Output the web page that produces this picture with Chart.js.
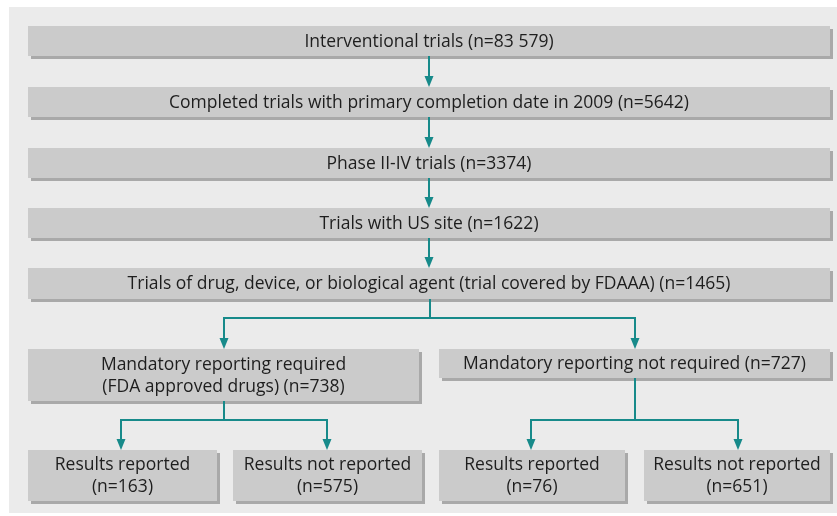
<!DOCTYPE html>
<html>
<head>
<meta charset="utf-8">
<script src="https://cdn.jsdelivr.net/npm/chart.js@4"></script>
<style>
  html, body { margin: 0; padding: 0; background: #ffffff; }
  #wrap { width: 837px; height: 516px; position: relative; }
</style>
</head>
<body>
<div id="wrap"><canvas id="flowChart"></canvas></div>
<script>
// flow stages, top to bottom
const stageText = [
    ['Interventional trials'],
    ['Completed trials with primary completion date in 2009'],
    ['Phase II-IV trials'],
    ['Trials with US site'],
    ['Trials of drug, device, or biological agent (trial covered by FDAAA)'],
    ['Mandatory reporting required', '(FDA approved drugs)'],
    ['Mandatory reporting not required'],
    ['Results reported'],
    ['Results not reported'],
    ['Results reported'],
    ['Results not reported']
];
const stageCounts = ['83 579', '5642', '3374', '1622', '1465', '738', '727', '163', '575', '76', '651'];
// counts go on their own line for the bottom row
const countOnNewLine = [false, false, false, false, false, false, false, true, true, true, true];

// box layout in canvas units: [x0, x1, y0, y1]
const boxLayout = [
    [28, 830, 26, 56],
    [28, 830, 87, 117],
    [28, 830, 148, 178],
    [28, 830, 208, 238],
    [28, 830, 268, 299],
    [28, 419, 349, 401],
    [439, 830, 349, 378],
    [28, 217, 450, 501],
    [233, 422, 450, 501],
    [439, 625, 450, 501],
    [644, 830, 450, 501]
];

// connector paths and arrow tips
const connectors = [
    [[429, 56], [429, 80]],
    [[429, 117], [429, 141]],
    [[429, 178], [429, 201]],
    [[429, 238], [429, 261]],
    [[430, 299], [430, 318]],
    [[224, 342], [224, 318], [635, 318], [635, 342]],
    [[224, 401], [224, 420]],
    [[121, 443], [121, 420], [327, 420], [327, 443]],
    [[635, 378], [635, 420]],
    [[531, 443], [531, 420], [738, 420], [738, 443]]
];
const arrowTips = [[429, 87], [429, 148], [429, 208], [429, 268], [224, 349], [635, 349], [121, 450], [327, 450], [531, 450], [738, 450]];

const teal = '#178a8a';

const flowPlugin = {
    id: 'flowBoxes',
    beforeDatasetsDraw(chart) {
        const ctx = chart.ctx;
        const xs = chart.scales.x, ys = chart.scales.y;
        ctx.save();
        // panel
        ctx.fillStyle = '#ebebeb';
        ctx.fillRect(xs.getPixelForValue(9), ys.getPixelForValue(7), xs.getPixelForValue(837) - xs.getPixelForValue(9), ys.getPixelForValue(513) - ys.getPixelForValue(7));
        boxLayout.forEach(function(b, i) {
            const x0 = xs.getPixelForValue(b[0]), x1 = xs.getPixelForValue(b[1]);
            const y0 = ys.getPixelForValue(b[2]), y1 = ys.getPixelForValue(b[3]);
            ctx.fillStyle = '#a9a9a9';
            ctx.fillRect(x0 + 3, y0 + 3, x1 - x0, y1 - y0);
            ctx.fillStyle = '#cbcbcb';
            ctx.fillRect(x0, y0, x1 - x0, y1 - y0);

            let lines = stageText[i].slice();
            const n = '(n=' + stageCounts[i] + ')';
            if (countOnNewLine[i]) lines.push(n);
            else lines[lines.length - 1] += ' ' + n;

            ctx.fillStyle = '#1e1e1e';
            ctx.font = '17.5px "Open Sans"';
            ctx.textAlign = 'center';
            ctx.textBaseline = 'middle';
            const cx = (x0 + x1) / 2, cy = (y0 + y1) / 2 + 1;
            const lh = 22;
            lines.forEach(function(t, k) {
                ctx.fillText(t, cx, cy + (k - (lines.length - 1) / 2) * lh);
            });
        });
        ctx.restore();
    },
    afterDatasetsDraw(chart) {
        const ctx = chart.ctx;
        const xs = chart.scales.x, ys = chart.scales.y;
        ctx.save();
        ctx.fillStyle = teal;
        arrowTips.forEach(function(a) {
            const x = xs.getPixelForValue(a[0]), y = ys.getPixelForValue(a[1]);
            ctx.beginPath();
            ctx.moveTo(x, y);
            ctx.lineTo(x - 4.5, y - 11);
            ctx.lineTo(x + 4.5, y - 11);
            ctx.closePath();
            ctx.fill();
        });
        ctx.restore();
    }
};

new Chart(document.getElementById('flowChart').getContext('2d'), {
    type: 'scatter',
    data: {
        datasets: connectors.map(function(path) {
            return {
                data: path.map(function(p) { return { x: p[0], y: p[1] }; }),
                showLine: true,
                borderColor: teal,
                borderWidth: 2,
                pointRadius: 0,
                fill: false
            };
        })
    },
    options: {
        responsive: true,
        maintainAspectRatio: false,
        animation: false,
        layout: { padding: 0 },
        plugins: { legend: { display: false }, tooltip: { enabled: false } },
        scales: {
            x: { type: 'linear', min: 0, max: 837, display: false },
            y: { type: 'linear', min: 0, max: 516, reverse: true, display: false }
        }
    },
    plugins: [flowPlugin]
});
</script>
</body>
</html>
